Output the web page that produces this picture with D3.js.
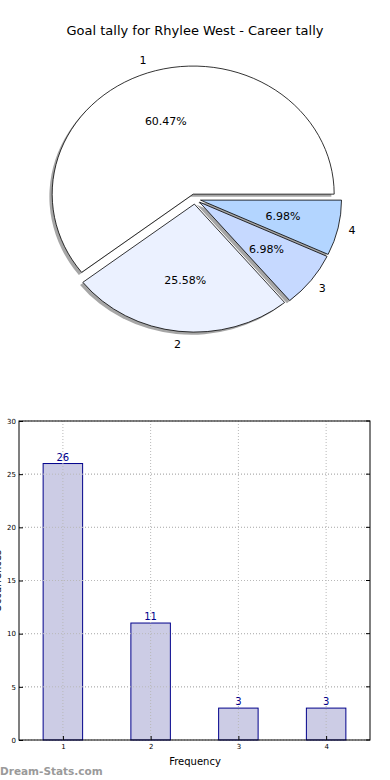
<!DOCTYPE html>
<html>
<head>
<meta charset="utf-8">
<script src="https://cdn.jsdelivr.net/npm/d3@7"></script>
<style>
  body { margin: 0; background: #fff; }
  svg { display: block; font-family: "DejaVu Sans", sans-serif; }
</style>
</head>
<body>
<svg id="chart" width="390" height="780"></svg>
<script>
// Data
const categories = ['1', '2', '3', '4'];
const tallies = [26, 11, 3, 3];
const sliceColors = ['#ffffff', '#ebf1ff', '#c6d9ff', '#b3d5ff'];
const yTicks = [0, 5, 10, 15, 20, 25, 30];

const svg = d3.select('#chart');
const total = d3.sum(tallies);

// Title
svg.append('text')
    .attr('x', 195)
    .attr('y', 35)
    .attr('text-anchor', 'middle')
    .style('font-size', '13px')
    .text('Goal tally for Rhylee West - Career tally');

// ---- Pie (matplotlib style, counter-clockwise from east, elliptical) ----
const cx = 195, cy = 199, rx = 141, ry = 128;
const explode = 0.04;

const pie = d3.pie()
    .sort(null)
    .startAngle(Math.PI / 2)
    .endAngle(Math.PI / 2 - 2 * Math.PI);

const arcs = pie(tallies);
const unitArc = d3.arc().innerRadius(0).outerRadius(1);

function offsetOf(d, dist) {
    const a = (d.startAngle + d.endAngle) / 2;
    return [dist * rx * Math.sin(a), -dist * ry * Math.cos(a)];
}

const pieGroup = svg.append('g');

// shadows first (below all wedges)
pieGroup.selectAll('path.shadow')
    .data(arcs)
    .enter()
    .append('path')
    .attr('class', 'shadow')
    .attr('d', unitArc)
    .attr('transform', d => {
        const [ox, oy] = offsetOf(d, explode);
        return `translate(${cx + ox - 2.8},${cy + oy + 2.6}) scale(${rx},${ry})`;
    })
    .style('fill', '#4d4d4d')
    .style('fill-opacity', 0.5);

pieGroup.selectAll('path.wedge')
    .data(arcs)
    .enter()
    .append('path')
    .attr('class', 'wedge')
    .attr('d', unitArc)
    .attr('transform', d => {
        const [ox, oy] = offsetOf(d, explode);
        return `translate(${cx + ox},${cy + oy}) scale(${rx},${ry})`;
    })
    .style('fill', (d, i) => sliceColors[i])
    .style('stroke', '#000')
    .style('stroke-width', 0.8)
    .attr('vector-effect', 'non-scaling-stroke');

// category labels
pieGroup.selectAll('text.cat')
    .data(arcs)
    .enter()
    .append('text')
    .attr('class', 'cat')
    .attr('x', d => cx + offsetOf(d, 1.14)[0])
    .attr('y', d => cy + offsetOf(d, 1.14)[1])
    .attr('text-anchor', 'middle')
    .attr('dominant-baseline', 'central')
    .style('font-size', '11px')
    .text((d, i) => categories[i]);

// percentage labels
pieGroup.selectAll('text.pct')
    .data(arcs)
    .enter()
    .append('text')
    .attr('class', 'pct')
    .attr('x', d => cx + offsetOf(d, 0.64)[0])
    .attr('y', d => cy + offsetOf(d, 0.64)[1])
    .attr('text-anchor', 'middle')
    .attr('dominant-baseline', 'central')
    .style('font-size', '11px')
    .text(d => (d.value / total * 100).toFixed(2) + '%');

// ---- Bar chart ----
const plotLeft = 19, plotRight = 370, plotTop = 421, plotBottom = 740;

const x = d3.scaleLinear().domain([0.5, 4.5]).range([plotLeft, plotRight]);
const y = d3.scaleLinear().domain([0, 30]).range([plotBottom, plotTop]);
const barW = 0.45;

const barGroup = svg.append('g');

// grid
barGroup.selectAll('line.ygrid')
    .data(yTicks)
    .enter()
    .append('line')
    .attr('x1', plotLeft).attr('x2', plotRight)
    .attr('y1', d => y(d)).attr('y2', d => y(d))
    .style('stroke', '#b8b8b8')
    .style('stroke-dasharray', '1,2');

// bars
barGroup.selectAll('rect.bar')
    .data(tallies)
    .enter()
    .append('rect')
    .attr('class', 'bar')
    .attr('x', (d, i) => x(+categories[i] - barW / 2))
    .attr('width', (d, i) => x(+categories[i] + barW / 2) - x(+categories[i] - barW / 2))
    .attr('y', d => y(d))
    .attr('height', d => y(0) - y(d))
    .style('fill', '#cccce5')
    .style('stroke', '#00008b')
    .style('stroke-width', 1);

// grid over bars (matplotlib draws it on top)
barGroup.selectAll('line.xgrid')
    .data(categories)
    .enter()
    .append('line')
    .attr('x1', d => x(+d)).attr('x2', d => x(+d))
    .attr('y1', plotTop).attr('y2', plotBottom)
    .style('stroke', '#b8b8b8')
    .style('stroke-dasharray', '1,2');

barGroup.selectAll('line.ygrid2')
    .data(yTicks.filter(t => t > 0 && t < 30))
    .enter()
    .append('line')
    .attr('x1', plotLeft).attr('x2', plotRight)
    .attr('y1', d => y(d)).attr('y2', d => y(d))
    .style('stroke', '#b8b8b8')
    .style('stroke-dasharray', '1,2');

// value labels
barGroup.selectAll('text.val')
    .data(tallies)
    .enter()
    .append('text')
    .attr('x', (d, i) => x(+categories[i]))
    .attr('y', d => y(d) - 3)
    .attr('text-anchor', 'middle')
    .style('font-size', '10px')
    .style('fill', '#00008b')
    .text(d => d);

// frame
barGroup.append('rect')
    .attr('x', plotLeft).attr('y', plotTop)
    .attr('width', plotRight - plotLeft).attr('height', plotBottom - plotTop)
    .style('fill', 'none')
    .style('stroke', '#000')
    .style('stroke-width', 1);

// axes
const yAxis = d3.axisLeft(y).tickValues(yTicks).tickSize(4).tickSizeOuter(0);
const xAxis = d3.axisBottom(x)
    .tickValues(categories.map(Number))
    .tickFormat(d3.format('d'))
    .tickSize(4).tickSizeOuter(0);

const gy = svg.append('g').attr('transform', `translate(${plotLeft},0)`).call(yAxis);
gy.select('.domain').remove();
gy.selectAll('line').style('stroke', '#000').attr('x2', 4);
gy.selectAll('text').attr('x', -3).style('font-size', '7px').style('font-family', '"DejaVu Sans", sans-serif');

const gx = svg.append('g').attr('transform', `translate(0,${plotBottom})`).call(xAxis);
gx.select('.domain').remove();
gx.selectAll('line').style('stroke', '#000').attr('y2', -4);
gx.selectAll('text').attr('y', 4).style('font-size', '7px').style('font-family', '"DejaVu Sans", sans-serif');

// right-side ticks
svg.selectAll('line.rtick')
    .data(yTicks)
    .enter()
    .append('line')
    .attr('x1', plotRight - 4).attr('x2', plotRight)
    .attr('y1', d => y(d)).attr('y2', d => y(d))
    .style('stroke', '#000');

// axis labels
svg.append('text')
    .attr('x', 195)
    .attr('y', 765)
    .attr('text-anchor', 'middle')
    .style('font-size', '10px')
    .text('Frequency');

svg.append('text')
    .attr('transform', 'translate(1,581) rotate(-90)')
    .attr('text-anchor', 'middle')
    .style('font-size', '10px')
    .text('Occurrences');

// watermark
svg.append('text')
    .attr('x', 0)
    .attr('y', 775)
    .style('font-size', '10.5px')
    .style('font-weight', 'bold')
    .style('fill', '#9a9a9a')
    .text('Dream-Stats.com');
</script>
</body>
</html>
